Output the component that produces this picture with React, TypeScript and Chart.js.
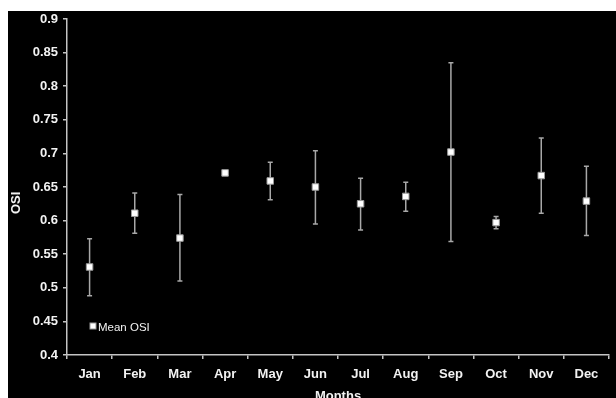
import React, { useEffect, useRef } from "react";
import { Chart, registerables } from "chart.js";

Chart.register(...registerables);

const months = ["Jan", "Feb", "Mar", "Apr", "May", "Jun", "Jul", "Aug", "Sep", "Oct", "Nov", "Dec"];
const meanOSI = [0.531, 0.611, 0.574, 0.671, 0.659, 0.65, 0.625, 0.636, 0.702, 0.597, 0.667, 0.629];
const upperOSI: (number | null)[] = [0.573, 0.641, 0.639, null, 0.687, 0.704, 0.663, 0.657, 0.835, 0.606, 0.723, 0.681];
const lowerOSI: (number | null)[] = [0.488, 0.581, 0.51, null, 0.631, 0.595, 0.586, 0.614, 0.569, 0.588, 0.611, 0.578];
const yTickValues = [0.4, 0.45, 0.5, 0.55, 0.6, 0.65, 0.7, 0.75, 0.8, 0.85, 0.9];
const seriesLabel = "Mean OSI";
const xTitle = "Months";
const yTitle = "OSI";

const FONT = "'Liberation Sans', Arial, Helvetica, sans-serif";
const AXIS = "#c4c4c4";
const TEXT = "#f2f2f2";

const errorBarPlugin = {
  id: "errorBars",
  beforeDatasetsDraw(chart: any) {
    const ctx = chart.ctx;
    const xs = chart.scales.x;
    const ys = chart.scales.y;
    ctx.save();
    ctx.strokeStyle = "#a8a8a8";
    ctx.lineWidth = 1.5;
    for (let i = 0; i < months.length; i++) {
      const hi = upperOSI[i];
      const lo = lowerOSI[i];
      if (hi == null || lo == null) continue;
      const x = xs.getPixelForValue(i);
      const yh = ys.getPixelForValue(hi);
      const yl = ys.getPixelForValue(lo);
      ctx.beginPath();
      ctx.moveTo(x, yh);
      ctx.lineTo(x, yl);
      ctx.moveTo(x - 2.5, yh);
      ctx.lineTo(x + 2.5, yh);
      ctx.moveTo(x - 2.5, yl);
      ctx.lineTo(x + 2.5, yl);
      ctx.stroke();
    }
    ctx.restore();
  },
};

const extrasPlugin = {
  id: "extras",
  afterDraw(chart: any) {
    const ctx = chart.ctx;
    const area = chart.chartArea;
    ctx.save();
    // y axis title
    ctx.fillStyle = TEXT;
    ctx.font = `bold 13px ${FONT}`;
    ctx.textAlign = "center";
    ctx.textBaseline = "middle";
    ctx.translate(8.5, area.top + (area.bottom - area.top) * 0.547);
    ctx.rotate(-Math.PI / 2);
    ctx.fillText(yTitle, 0, 0);
    ctx.restore();

    // legend inside plot
    ctx.save();
    const sx = area.left + 23;
    const sy = area.bottom - 32;
    ctx.fillStyle = "#ffffff";
    ctx.strokeStyle = "#999";
    ctx.lineWidth = 1;
    ctx.fillRect(sx, sy, 6, 6);
    ctx.strokeRect(sx, sy, 6, 6);
    ctx.fillStyle = TEXT;
    ctx.font = `11.5px ${FONT}`;
    ctx.textAlign = "left";
    ctx.textBaseline = "middle";
    ctx.fillText(seriesLabel, sx + 8, sy + 4.5);
    ctx.restore();
  },
};

export default function App() {
  const ref = useRef<HTMLCanvasElement>(null);
  useEffect(() => {
    if (!ref.current) return;
    const chart = new Chart(ref.current, {
      type: "line",
      data: {
        labels: months,
        datasets: [
          {
            label: seriesLabel,
            data: meanOSI,
            showLine: false,
            pointStyle: "rect",
            pointRadius: 4.6,
            pointBackgroundColor: "#ffffff",
            pointBorderColor: "#9a9a9a",
            pointBorderWidth: 1,
          },
        ],
      },
      options: {
        animation: false,
        responsive: false,
        devicePixelRatio: 1,
        layout: { padding: { top: 8, right: 7, left: 0, bottom: 0 } },
        plugins: { legend: { display: false }, tooltip: { enabled: false } },
        scales: {
          x: {
            type: "category",
            offset: true,
            grid: {
              offset: true,
              drawOnChartArea: false,
              drawTicks: true,
              tickLength: 4,
              color: AXIS,
              lineWidth: 1.5,
            },
            border: { display: true, color: AXIS, width: 1.5 },
            ticks: {
              color: TEXT,
              padding: 8,
              maxRotation: 0,
              autoSkip: false,
              font: { family: FONT, size: 13, weight: "bold" },
            },
            title: {
              display: true,
              text: xTitle,
              color: TEXT,
              padding: { top: 0, bottom: 7 },
              font: { family: FONT, size: 13, weight: "bold" },
            },
            afterFit(scale: any) {
              scale.height = 56;
              scale.paddingLeft = 0;
              scale.paddingRight = 0;
            },
          },
          y: {
            min: 0.4,
            max: 0.9,
            grid: {
              drawOnChartArea: false,
              drawTicks: true,
              tickLength: 4,
              color: AXIS,
              lineWidth: 1.5,
            },
            border: { display: true, color: AXIS, width: 1.5 },
            afterBuildTicks(scale: any) {
              scale.ticks = yTickValues.map((v) => ({ value: v }));
            },
            ticks: {
              color: TEXT,
              padding: 5,
              font: { family: FONT, size: 13, weight: "bold" },
              callback: (v: any) => String(Number(Number(v).toFixed(2))),
            },
            afterFit(scale: any) {
              scale.width = 59;
              scale.paddingTop = 0;
              scale.paddingBottom = 0;
            },
          },
        },
      },
      plugins: [errorBarPlugin, extrasPlugin],
    } as any);
    return () => chart.destroy();
  }, []);

  return (
    <div
      style={{
        position: "absolute",
        left: 8,
        top: 11,
        width: 608,
        height: 387,
        overflow: "hidden",
        background: "#000",
      }}
    >
      <canvas ref={ref} width={608} height={400} style={{ display: "block" }} />
    </div>
  );
}
